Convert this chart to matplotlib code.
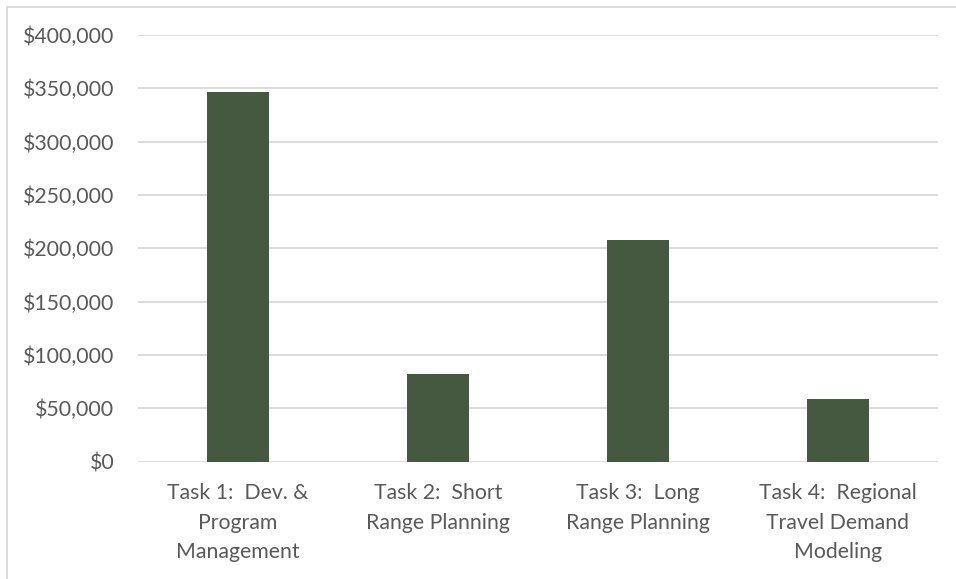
import matplotlib
matplotlib.use("Agg")
import matplotlib.pyplot as plt
from matplotlib.lines import Line2D
from matplotlib.ticker import FuncFormatter, MultipleLocator

categories = ["Task 1:  Dev. &\nProgram\nManagement",
              "Task 2:  Short\nRange Planning",
              "Task 3:  Long\nRange Planning",
              "Task 4:  Regional\nTravel Demand\nModeling"]
values = [346600, 82300, 207600, 58800]

W, H = 956, 579
fig = plt.figure(figsize=(W / 100, H / 100), dpi=100)
plt.rcParams['font.family'] = ['Lato', 'DejaVu Sans']

ax = fig.add_axes([138 / W, 1 - 461.7 / H, (937.7 - 138) / W, (461.7 - 35) / H])
x = list(range(len(categories)))
ax.bar(x, values, width=0.31, color="#455941", zorder=3)
ax.set_xlim(-0.5, len(categories) - 0.5)
ax.set_ylim(0, 400000)
ax.yaxis.set_major_locator(MultipleLocator(50000))
ax.yaxis.set_major_formatter(FuncFormatter(lambda v, p: f"${int(v):,}"))
ax.grid(axis="y", color="#d9d9d9", linewidth=1.3, zorder=0)
for s in ax.spines.values():
    s.set_visible(False)
ax.tick_params(axis="both", length=0, colors="#595959", labelsize=15.3)
ax.tick_params(axis="y", pad=17)
ax.tick_params(axis="x", pad=15.5)
ax.set_xticks(x)
ax.set_xticklabels(categories, linespacing=1.6)

# outer chart border (top and left visible)
fig.add_artist(Line2D([7 / W, 7 / W], [0, 1 - 7 / H], transform=fig.transFigure,
                      color="#d9d9d9", linewidth=1.3))
fig.add_artist(Line2D([7 / W, 1], [1 - 7 / H, 1 - 7 / H], transform=fig.transFigure,
                      color="#d9d9d9", linewidth=1.3))

fig.savefig("out.png", dpi=100)
